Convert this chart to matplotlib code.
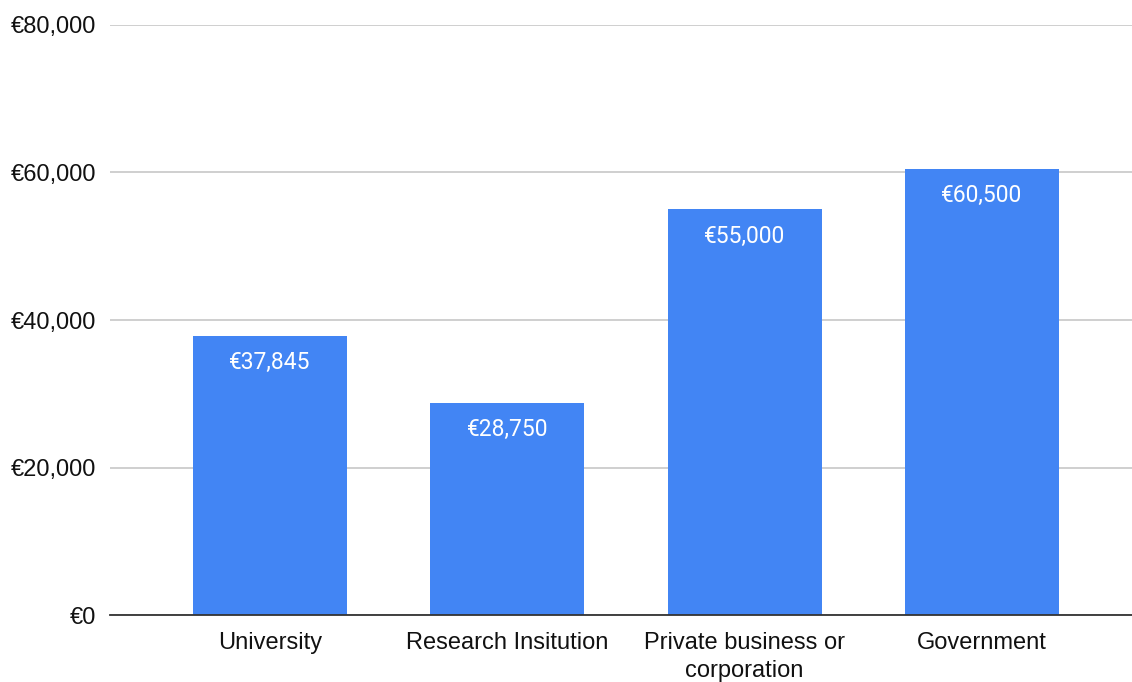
import matplotlib
matplotlib.use("Agg")
import matplotlib.pyplot as plt
from matplotlib.ticker import FuncFormatter

categories = ["University", "Research Insitution", "Private business or\ncorporation", "Government"]
values = [37845, 28750, 55000, 60500]
yticks = [0, 20000, 40000, 60000, 80000]

fig = plt.figure(figsize=(11.32, 6.82), dpi=100)
ax = fig.add_axes([110/1132, (682-615)/682, 1 - 110/1132, (615-25)/682])

x = list(range(len(categories)))
bars = ax.bar(x, values, width=0.65, color="#4285F4", zorder=3)

for xi, v in zip(x, values):
    ax.annotate(f"€{v:,}", (xi, v), xytext=(0, -11), textcoords="offset points",
                ha="center", va="top", color="white", fontsize=16.5, family="Roboto", zorder=4)

ax.set_xlim(-0.674, 3.632)
ax.set_ylim(0, 80000)
ax.set_yticks(yticks)
ax.yaxis.set_major_formatter(FuncFormatter(lambda v, p: f"€{int(v):,}"))
ax.set_xticks(x)
ax.set_xticklabels(categories, linespacing=1.35)
for lab in ax.get_xticklabels() + ax.get_yticklabels():
    lab.set_family("Liberation Sans")
    lab.set_fontsize(17)
    lab.set_color("#111111")
ax.tick_params(axis="both", length=0)
ax.tick_params(axis="y", pad=10)
ax.tick_params(axis="x", pad=12)
ax.grid(axis="y", color="#cccccc", linewidth=1.3, zorder=0)
for s in ["top", "right", "left"]:
    ax.spines[s].set_visible(False)
ax.spines["bottom"].set_color("#333333")
ax.spines["bottom"].set_linewidth(1.3)
ax.spines["bottom"].set_zorder(5)

fig.savefig("out.png", dpi=100)
